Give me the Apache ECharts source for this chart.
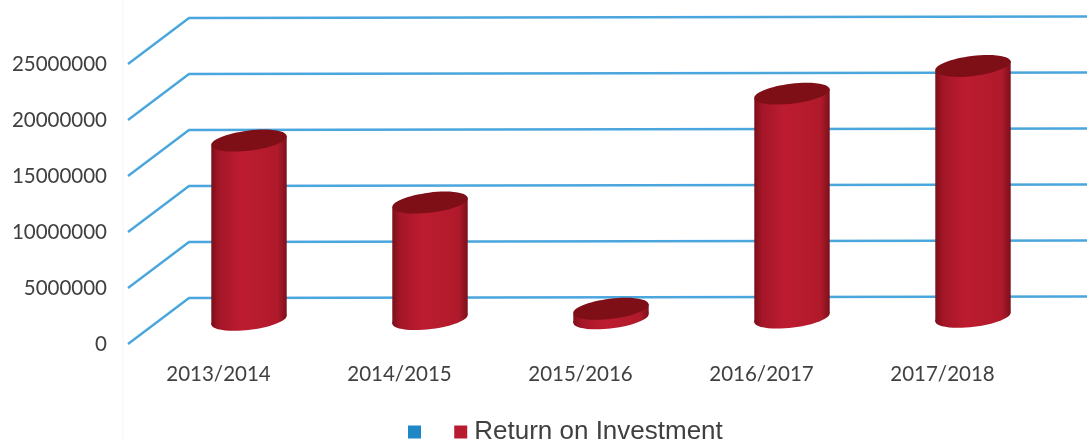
<!DOCTYPE html>
<html>
<head>
<meta charset="utf-8">
<style>html,body{margin:0;padding:0;background:#fff}#c{width:1087px;height:440px}</style>
<script src="https://cdn.jsdelivr.net/npm/echarts@6/dist/echarts.min.js"></script>
</head>
<body>
<div id="c"></div>
<script>
const categories = ['2013/2014','2014/2015','2015/2016','2016/2017','2017/2018'];
const returnOnInvestment = [16000000, 10400000, 850000, 20000000, 22400000];
const yTicks = [0, 5000000, 10000000, 15000000, 20000000, 25000000];
const blueName = '\u00a0';
const redName = 'Return on Investment';

const DEPTH_X = 61, DEPTH_Y = 46, WALL_TILT = 0.0017, CYL_TILT = 0.004;
const RX = 38, RY = 10, ROT = 7 * Math.PI / 180;
const lineColor = '#4aa6dd';

function wallRender(params, api) {
  const p = api.coord([0, api.value(0)]);
  const x0 = params.coordSys.x, y0 = p[1];
  const bx = x0 + DEPTH_X, by = y0 - DEPTH_Y;
  const ex = 1087, ey = by - (ex - bx) * WALL_TILT;
  return { type: 'polyline', silent: true,
    shape: { points: [[x0, y0], [bx, by], [ex, ey]] },
    style: { fill: null, stroke: lineColor, lineWidth: 2.4 } };
}
function cylinderRender(params, api) {
  const i = api.value(0);
  const base = api.coord([i, 0]), top = api.coord([i, api.value(1)]);
  const cx = base[0] + DEPTH_X / 2;
  const drift = (cx - params.coordSys.x - DEPTH_X) * CYL_TILT;
  const by = base[1] - DEPTH_Y / 2 - 1 - drift, ty = top[1] - DEPTH_Y / 2 - 1 - drift;
  const dx = RX * Math.cos(ROT), dy = RX * Math.sin(ROT);
  const body = new echarts.graphic.LinearGradient(0, 0, 1, 0, [
    { offset: 0, color: '#7a0f1b' }, { offset: 0.1, color: '#a31627' },
    { offset: 0.4, color: '#bd1c30' }, { offset: 0.88, color: '#b01a2b' },
    { offset: 1, color: '#7c101c' }]);
  return { type: 'group', children: [
    { type: 'ellipse', x: cx, y: by, rotation: ROT, shape: { cx: 0, cy: 0, rx: RX, ry: RY }, style: { fill: body } },
    { type: 'polygon', shape: { points: [[cx - dx, ty + dy], [cx + dx, ty - dy], [cx + dx, by - dy], [cx - dx, by + dy]] }, style: { fill: body } },
    { type: 'ellipse', x: cx, y: ty, rotation: ROT, shape: { cx: 0, cy: 0, rx: RX, ry: RY }, style: { fill: '#7f0f17' } }
  ]};
}

const chart = echarts.init(document.getElementById('c'), null, { renderer: 'canvas' });
chart.setOption({
  animation: false,
  backgroundColor: '#ffffff',
  grid: { left: 128, top: 64, width: 905, height: 280, containLabel: false },
  graphic: [
    { type: 'line', silent: true, shape: { x1: 123, y1: 0, x2: 123, y2: 440 }, style: { stroke: '#f3f3f3', lineWidth: 1 } }
  ],
  legend: {
    left: 403, top: 414, itemWidth: 13, itemHeight: 13, itemGap: 19,
    icon: 'rect',
    textStyle: { fontFamily: 'Liberation Sans', fontSize: 26, color: '#404040', padding: [0, 0, 0, 2] },
    data: [blueName, redName]
  },
  xAxis: {
    type: 'category', data: categories,
    axisLine: { show: false }, axisTick: { show: false }, splitLine: { show: false },
    axisLabel: { fontFamily: 'Lato', fontSize: 20.5, color: '#404040', margin: 20 }
  },
  yAxis: {
    type: 'value', min: 0, max: 25000000, interval: 5000000,
    axisLine: { show: false }, axisTick: { show: false }, splitLine: { show: false },
    axisLabel: { fontFamily: 'Lato', fontSize: 20.5, color: '#404040', margin: 21, padding: [7, 0, 0, 0], formatter: v => String(v) }
  },
  series: [
    { type: 'custom', name: 'wall', clip: false, silent: true, renderItem: wallRender, data: yTicks.map(v => [v]), encode: { y: 0 }, z: 1 },
    { type: 'custom', name: blueName, renderItem: () => null, data: [], itemStyle: { color: '#1f86c8' } },
    { type: 'custom', name: redName, clip: false, renderItem: cylinderRender,
      data: returnOnInvestment.map((v, i) => [i, v]), encode: { x: 0, y: 1 }, itemStyle: { color: '#b81c2e' }, z: 3 }
  ]
});
</script>
</body>
</html>
